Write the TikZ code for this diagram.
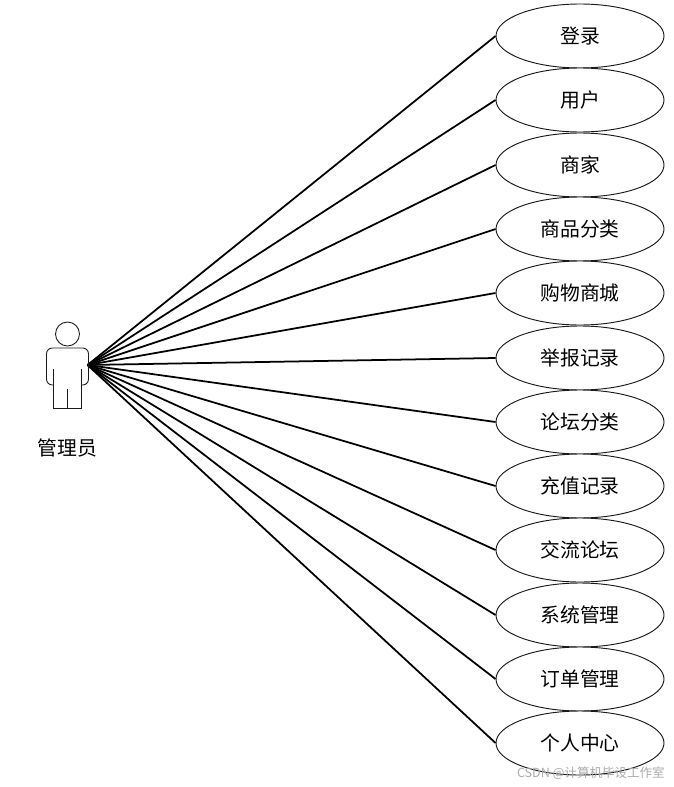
\documentclass[tikz,border=0pt]{standalone}
\usepackage{fontspec}
\setmainfont{Noto Sans CJK SC}
\usetikzlibrary{positioning, shapes.geometric}
\definecolor{LineDark}{HTML}{1A1A1A}
\definecolor{MarkGray}{HTML}{ABABAB}
\tikzset{
  usecase/.style={draw=LineDark, ellipse, fill=white, align=center, minimum width=5.04cm, minimum height=1.92cm, inner sep=0pt, line width=0.8pt, font=\fontsize{16.9pt}{18pt}\selectfont},
  actorline/.style={draw=LineDark, line width=0.75pt},
  link/.style={draw=black, line width=1.5pt},
  actorname/.style={inner sep=0pt, font=\fontsize{16.9pt}{20pt}\selectfont},
  watermark/.style={inner sep=0pt, text=MarkGray, font=\fontsize{10.7pt}{12pt}\selectfont}
}
\begin{document}
\begin{tikzpicture}[x=0.03cm, y=-0.03cm]
\useasboundingbox (0,0) rectangle (673,787);

\coordinate (actor) at (87.5,365);

\node[usecase] (uc1) at (580,36) {登录};
\node[usecase] (uc2) at (580,100) {用户};
\node[usecase] (uc3) at (580,165) {商家};
\node[usecase] (uc4) at (580,229) {商品分类};
\node[usecase] (uc5) at (580,293) {购物商城};
\node[usecase] (uc6) at (580,358) {举报记录};
\node[usecase] (uc7) at (580,422) {论坛分类};
\node[usecase] (uc8) at (580,486) {充值记录};
\node[usecase] (uc9) at (580,550) {交流论坛};
\node[usecase] (uc10) at (580,615) {系统管理};
\node[usecase] (uc11) at (580,679) {订单管理};
\node[usecase] (uc12) at (580,743) {个人中心};

\node[actorname] (admin) at (67.5,448) {管理员};
\node[watermark, anchor=east] (mark) at (665,773) {CSDN @计算机毕设工作室};

\draw[link] (actor) -- (uc1.west);
\draw[link] (actor) -- (uc2.west);
\draw[link] (actor) -- (uc3.west);
\draw[link] (actor) -- (uc4.west);
\draw[link] (actor) -- (uc5.west);
\draw[link] (actor) -- (uc6.west);
\draw[link] (actor) -- (uc7.west);
\draw[link] (actor) -- (uc8.west);
\draw[link] (actor) -- (uc9.west);
\draw[link] (actor) -- (uc10.west);
\draw[link] (actor) -- (uc11.west);
\draw[link] (actor) -- (uc12.west);

% figure
\draw[actorline] (67.5,334) circle (12);
\draw[actorline, rounded corners=5pt] (53.5,385) -- (46.5,385) -- (46.5,348) -- (88.5,348) -- (88.5,385) -- (81,385);
\draw[actorline] (53.5,369) -- (53.5,408) -- (81,408) -- (81,369);
\draw[actorline] (67.5,389) -- (67.5,408);
\end{tikzpicture}
\end{document}
